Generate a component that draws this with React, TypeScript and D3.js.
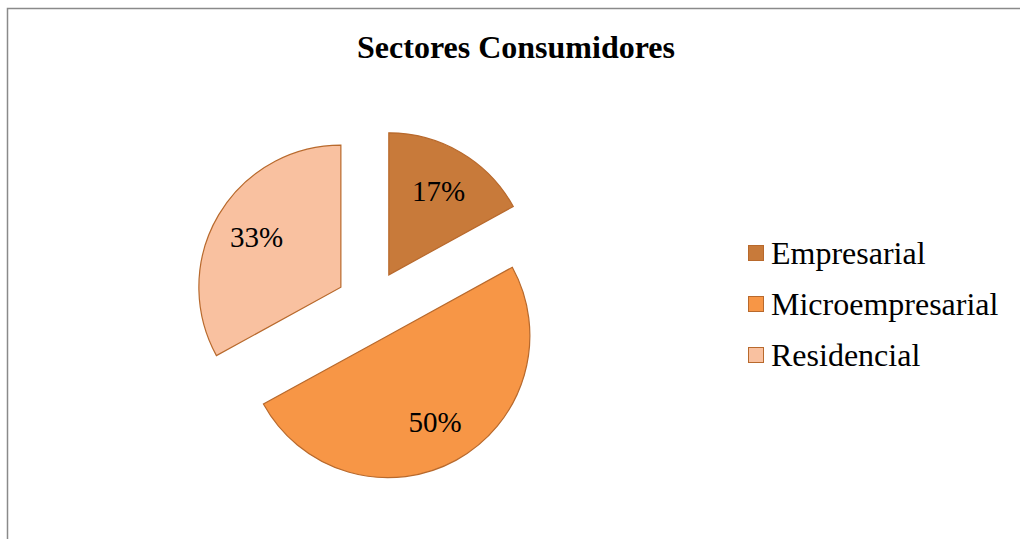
import React from "react";
import * as d3 from "d3";

const categories = ["Empresarial", "Microempresarial", "Residencial"];
const values = [17, 50, 33];
const labels = ["17%", "50%", "33%"];
const colors = ["#C87A3A", "#F79646", "#F9C1A0"];
const title = "Sectores Consumidores";

export default function App() {
  const W = 1020, H = 539;
  const cx = 371, cy = 305, r = 142, explode = 35;
  const pie = d3.pie<number>().sort(null).value((d) => d)(values);
  const arc = d3.arc<d3.PieArcDatum<number>>().innerRadius(0).outerRadius(r);
  const labelArc = d3.arc<d3.PieArcDatum<number>>().innerRadius(r * 0.69).outerRadius(r * 0.69);
  const font = "Liberation Serif";
  const legendY = d3.scalePoint<string>().domain(categories).range([253, 355]);

  return (
    <svg width={W} height={H} style={{ position: "absolute", left: 0, top: 0, background: "#fff" }}>
      <rect x={7.5} y={8.5} width={1100} height={600} fill="#fff" stroke="#8a8a8a" strokeWidth={1.5} />
      <text x={516} y={58} textAnchor="middle" fontFamily={font} fontWeight="bold" fontSize={32} fill="#000">
        {title}
      </text>
      <g transform={`translate(${cx},${cy})`}>
        {pie.map((p, i) => {
          const mid = (p.startAngle + p.endAngle) / 2;
          const dx = Math.sin(mid) * explode;
          const dy = -Math.cos(mid) * explode;
          return (
            <g key={i} transform={`translate(${dx},${dy})`}>
              <path d={arc(p) || ""} fill={colors[i]} stroke="#B8692C" strokeWidth={1.2} />
            </g>
          );
        })}
      </g>
      <g transform={`translate(${cx},${cy})`}>
        {pie.map((p, i) => {
          const mid = (p.startAngle + p.endAngle) / 2;
          const dx = Math.sin(mid) * explode;
          const dy = -Math.cos(mid) * explode;
          const [lx, ly] = labelArc.centroid(p);
          return (
            <text key={i} x={lx + dx} y={ly + dy + 10} textAnchor="middle"
              fontFamily={font} fontSize={29} fill="#000">
              {labels[i]}
            </text>
          );
        })}
      </g>
      <g>
        {categories.map((c, i) => {
          const y = legendY(c) as number;
          return (
            <g key={c}>
              <rect x={748.5} y={y - 7.5} width={15} height={15} fill={colors[i]} stroke="#B8692C" strokeWidth={1} />
              <text x={771} y={y + 11} fontFamily={font} fontSize={32} fill="#000">
                {c}
              </text>
            </g>
          );
        })}
      </g>
    </svg>
  );
}
